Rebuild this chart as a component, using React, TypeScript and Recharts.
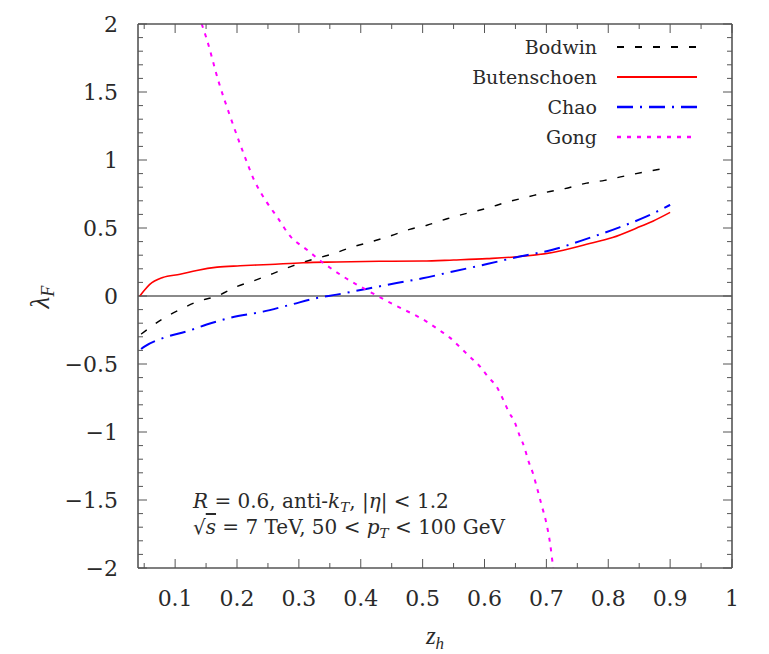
import React from "react";
import { LineChart, Line, XAxis, YAxis, ReferenceLine } from "recharts";

type Pt = { x: number; y: number };

const bodwin: Pt[] = [
  { x: 0.045, y: -0.28 }, { x: 0.051, y: -0.26 }, { x: 0.079, y: -0.17 }, { x: 0.108, y: -0.1 },
  { x: 0.137, y: -0.04 }, { x: 0.168, y: 0.0 }, { x: 0.2, y: 0.07 }, { x: 0.229, y: 0.115 },
  { x: 0.258, y: 0.165 }, { x: 0.289, y: 0.22 }, { x: 0.323, y: 0.27 }, { x: 0.355, y: 0.31 },
  { x: 0.386, y: 0.36 }, { x: 0.418, y: 0.4 }, { x: 0.45, y: 0.445 }, { x: 0.479, y: 0.49 },
  { x: 0.507, y: 0.52 }, { x: 0.541, y: 0.57 }, { x: 0.573, y: 0.61 }, { x: 0.604, y: 0.645 },
  { x: 0.636, y: 0.69 }, { x: 0.668, y: 0.726 }, { x: 0.7, y: 0.763 }, { x: 0.73, y: 0.79 },
  { x: 0.765, y: 0.83 }, { x: 0.794, y: 0.85 }, { x: 0.824, y: 0.88 }, { x: 0.856, y: 0.91 },
  { x: 0.9, y: 0.945 },
];

const butenschoen: Pt[] = [
  { x: 0.043, y: 0.0 }, { x: 0.05, y: 0.04 }, { x: 0.059, y: 0.085 }, { x: 0.08, y: 0.136 },
  { x: 0.108, y: 0.16 }, { x: 0.135, y: 0.188 }, { x: 0.168, y: 0.212 }, { x: 0.205, y: 0.222 },
  { x: 0.253, y: 0.232 }, { x: 0.307, y: 0.245 }, { x: 0.361, y: 0.25 }, { x: 0.43, y: 0.255 },
  { x: 0.5, y: 0.257 }, { x: 0.55, y: 0.265 }, { x: 0.604, y: 0.275 }, { x: 0.657, y: 0.29 },
  { x: 0.71, y: 0.32 }, { x: 0.765, y: 0.38 }, { x: 0.807, y: 0.43 }, { x: 0.846, y: 0.5 },
  { x: 0.872, y: 0.55 }, { x: 0.9, y: 0.615 },
];

const chao: Pt[] = [
  { x: 0.045, y: -0.39 }, { x: 0.051, y: -0.37 }, { x: 0.08, y: -0.31 }, { x: 0.119, y: -0.26 },
  { x: 0.151, y: -0.21 }, { x: 0.189, y: -0.16 }, { x: 0.242, y: -0.115 }, { x: 0.286, y: -0.065 },
  { x: 0.329, y: -0.015 }, { x: 0.361, y: 0.01 }, { x: 0.404, y: 0.048 }, { x: 0.458, y: 0.095 },
  { x: 0.5, y: 0.13 }, { x: 0.549, y: 0.18 }, { x: 0.604, y: 0.235 }, { x: 0.657, y: 0.29 },
  { x: 0.71, y: 0.34 }, { x: 0.765, y: 0.42 }, { x: 0.818, y: 0.505 }, { x: 0.862, y: 0.585 },
  { x: 0.9, y: 0.67 },
];

const gong: Pt[] = [
  { x: 0.143, y: 2.0 }, { x: 0.151, y: 1.89 }, { x: 0.17, y: 1.58 }, { x: 0.189, y: 1.32 },
  { x: 0.208, y: 1.08 }, { x: 0.229, y: 0.84 }, { x: 0.248, y: 0.69 }, { x: 0.265, y: 0.58 },
  { x: 0.286, y: 0.44 }, { x: 0.313, y: 0.34 }, { x: 0.339, y: 0.245 }, { x: 0.371, y: 0.145 },
  { x: 0.415, y: 0.03 }, { x: 0.452, y: -0.06 }, { x: 0.507, y: -0.19 }, { x: 0.525, y: -0.245 },
  { x: 0.544, y: -0.306 }, { x: 0.56, y: -0.375 }, { x: 0.576, y: -0.445 }, { x: 0.593, y: -0.52 },
  { x: 0.605, y: -0.59 }, { x: 0.62, y: -0.67 }, { x: 0.63, y: -0.76 }, { x: 0.639, y: -0.85 },
  { x: 0.649, y: -0.93 }, { x: 0.657, y: -1.03 }, { x: 0.665, y: -1.12 }, { x: 0.67, y: -1.2 },
  { x: 0.678, y: -1.3 }, { x: 0.686, y: -1.43 }, { x: 0.693, y: -1.55 }, { x: 0.699, y: -1.65 },
  { x: 0.706, y: -1.82 }, { x: 0.711, y: -2.0 },
];

const xMajor = [0.1, 0.2, 0.3, 0.4, 0.5, 0.6, 0.7, 0.8, 0.9, 1];
const xMajorLabels = ["0.1", "0.2", "0.3", "0.4", "0.5", "0.6", "0.7", "0.8", "0.9", "1"];
const yMajor = [-2, -1.5, -1, -0.5, 0, 0.5, 1, 1.5, 2];
const yMajorLabels = ["\u22122", "\u22121.5", "\u22121", "\u22120.5", "0", "0.5", "1", "1.5", "2"];
const xMinorStep = 0.05;
const yMinorStep = 0.1;

const round = (v: number) => Math.round(v * 1000) / 1000;
const xTicks: number[] = [];
for (let i = 1; i <= 20; i++) xTicks.push(round(i * xMinorStep));
const yTicks: number[] = [];
for (let i = -20; i <= 20; i++) yTicks.push(round(i * yMinorStep));

const FONT = "'DejaVu Serif', 'Liberation Serif', serif";
const MATHFONT = "'Liberation Serif', serif";
const AXIS = "#555";
const TXT = "#2a2a2a";
const MAJ = 9;
const MIN = 5;

const series = [
  { name: "Bodwin", data: bodwin, color: "#000000", dash: "7 11", width: 1.4 },
  { name: "Butenschoen", data: butenschoen, color: "#ff0000", dash: undefined as string | undefined, width: 1.6 },
  { name: "Chao", data: chao, color: "#0000ff", dash: "16 7 2 7", width: 2 },
  { name: "Gong", data: gong, color: "#ff00ff", dash: "4 6", width: 2 },
];

const findIdx = (arr: number[], v: number) => arr.findIndex((a) => Math.abs(a - v) < 1e-6);

const BottomTick = (p: any) => {
  const v = p.payload.value;
  const i = findIdx(xMajor, v);
  const len = i >= 0 ? MAJ : MIN;
  return (
    <g>
      <line x1={p.x} y1={p.y} x2={p.x} y2={p.y - len} stroke={AXIS} strokeWidth={1} />
      {i >= 0 && (
        <text x={p.x} y={p.y + 38} textAnchor="middle" fontFamily={FONT} fontSize={22} fill={TXT}>
          {xMajorLabels[i]}
        </text>
      )}
    </g>
  );
};

const TopTick = (p: any) => {
  const v = p.payload.value;
  const i = findIdx(xMajor, v);
  const len = i >= 0 ? MAJ : MIN;
  return <line x1={p.x} y1={p.y} x2={p.x} y2={p.y + len} stroke={AXIS} strokeWidth={1} />;
};

const LeftTick = (p: any) => {
  const v = p.payload.value;
  const i = findIdx(yMajor, v);
  const len = i >= 0 ? MAJ : MIN;
  return (
    <g>
      <line x1={p.x} y1={p.y} x2={p.x + len} y2={p.y} stroke={AXIS} strokeWidth={1} />
      {i >= 0 && (
        <text x={p.x - 20} y={p.y + 8} textAnchor="end" fontFamily={FONT} fontSize={22} fill={TXT}>
          {yMajorLabels[i]}
        </text>
      )}
    </g>
  );
};

const RightTick = (p: any) => {
  const v = p.payload.value;
  const i = findIdx(yMajor, v);
  const len = i >= 0 ? MAJ : MIN;
  return <line x1={p.x} y1={p.y} x2={p.x - len} y2={p.y} stroke={AXIS} strokeWidth={1} />;
};

const subStyle: React.CSSProperties = { fontSize: "0.68em", verticalAlign: "-0.3em", lineHeight: 0 };

export default function App() {
  const W = 761;
  const H = 646;
  return (
    <div style={{ position: "relative", width: W, height: H, background: "#fff" }}>
      <LineChart width={W} height={H} margin={{ top: 15, right: 36, bottom: 0, left: 0 }}>
        <XAxis
          xAxisId="b"
          dataKey="x"
          type="number"
          domain={[0.04, 1]}
          allowDataOverflow
          ticks={xTicks}
          interval={0}
          height={86}
          tickSize={0}
          tickMargin={0}
          tickLine={false}
          tick={BottomTick}
          axisLine={{ stroke: AXIS, strokeWidth: 1.6 }}
        />
        <XAxis
          xAxisId="t"
          orientation="top"
          dataKey="x"
          type="number"
          domain={[0.04, 1]}
          allowDataOverflow
          ticks={xTicks}
          interval={0}
          height={1}
          tickSize={0}
          tickMargin={0}
          tickLine={false}
          tick={TopTick}
          axisLine={{ stroke: AXIS, strokeWidth: 1.6 }}
        />
        <YAxis
          yAxisId="l"
          type="number"
          domain={[-2, 2]}
          allowDataOverflow
          ticks={yTicks}
          interval={0}
          width={130}
          tickSize={0}
          tickMargin={0}
          tickLine={false}
          tick={LeftTick}
          axisLine={{ stroke: AXIS, strokeWidth: 1.6 }}
        />
        <YAxis
          yAxisId="r"
          orientation="right"
          type="number"
          domain={[-2, 2]}
          allowDataOverflow
          ticks={yTicks}
          interval={0}
          width={1}
          tickSize={0}
          tickMargin={0}
          tickLine={false}
          tick={RightTick}
          axisLine={{ stroke: AXIS, strokeWidth: 1.6 }}
        />
        <ReferenceLine xAxisId="b" yAxisId="l" y={0} stroke="#8a8a8a" strokeWidth={2} />
        {series.map((s) => (
          <Line
            key={s.name}
            xAxisId="b"
            yAxisId="l"
            data={s.data}
            dataKey="y"
            name={s.name}
            type="monotone"
            stroke={s.color}
            strokeWidth={s.width}
            strokeDasharray={s.dash}
            dot={false}
            activeDot={false}
            isAnimationActive={false}
          />
        ))}
      </LineChart>

      {/* legend */}
      <div style={{ position: "absolute", left: 380, top: 24, fontFamily: FONT, fontSize: 19, color: TXT }}>
        {series.map((s) => (
          <div key={s.name} style={{ display: "flex", alignItems: "center", height: 30 }}>
            <div style={{ width: 209, textAlign: "right" }}>{s.name}</div>
            <svg width={80} height={10} style={{ marginLeft: 20 }}>
              <line x1={0} y1={5} x2={80} y2={5} stroke={s.color} strokeWidth={s.width + 0.6} strokeDasharray={s.dash} />
            </svg>
          </div>
        ))}
      </div>

      {/* annotation */}
      <div style={{ position: "absolute", left: 185, top: 480, fontFamily: FONT, fontSize: 20, lineHeight: "26px", color: TXT, whiteSpace: "nowrap" }}>
        <div>
          <i>R</i> = 0.6, anti-<i>k</i><span style={subStyle}><i>T</i></span>, |<i>η</i>| &lt; 1.2
        </div>
        <div>
          √<span style={{ textDecoration: "overline" }}><i>s</i></span> = 7 TeV, 50 &lt; <i>p</i>
          <span style={subStyle}><i>T</i></span> &lt; 100 GeV
        </div>
      </div>

      {/* y label */}
      <div
        style={{
          position: "absolute",
          left: 32,
          top: 289,
          transform: "translate(-50%, -50%) rotate(-90deg)",
          fontFamily: MATHFONT,
          fontSize: 27,
          color: TXT,
          whiteSpace: "nowrap",
        }}
      >
        <i>λ</i>
        <span style={subStyle}><i>F</i></span>
      </div>

      {/* x label */}
      <div
        style={{
          position: "absolute",
          left: 427,
          top: 628,
          transform: "translate(-50%, -50%)",
          fontFamily: MATHFONT,
          fontSize: 25,
          color: TXT,
          whiteSpace: "nowrap",
        }}
      >
        <i>z</i>
        <span style={subStyle}><i>h</i></span>
      </div>
    </div>
  );
}
